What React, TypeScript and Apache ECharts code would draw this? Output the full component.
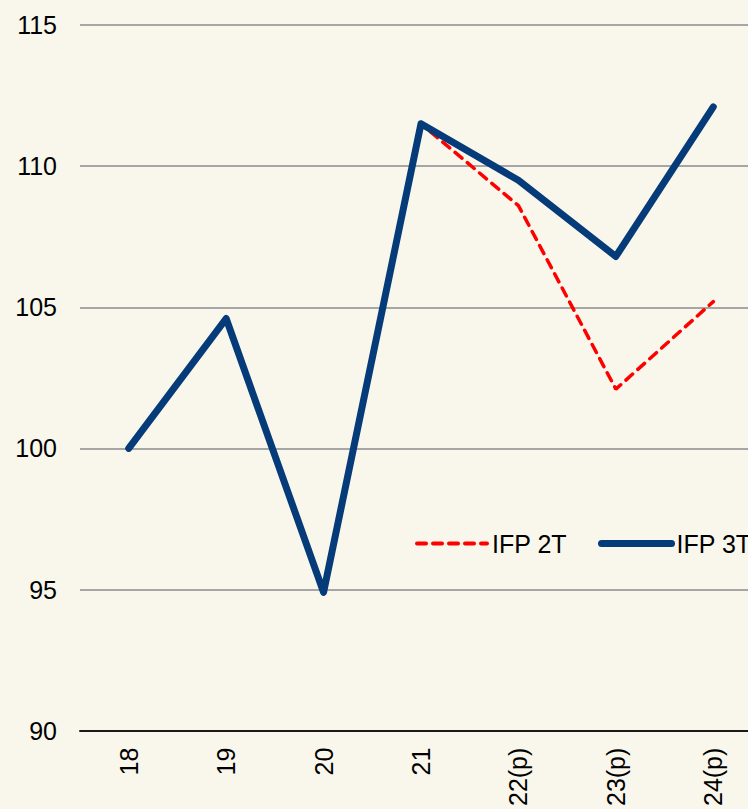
import React, { useEffect, useRef } from "react";
import * as echarts from "echarts";

// Years (projections marked with "(p)")
const categories = ["18", "19", "20", "21", "22(p)", "23(p)", "24(p)"];
// Index values, base 2018 = 100
const ifp2T = [100, 104.6, 94.9, 111.5, 108.6, 102.1, 105.2];
const ifp3T = [100, 104.6, 94.9, 111.5, 109.5, 106.8, 112.1];
const seriesNames = ["IFP 2T", "IFP 3T"];

const FONT = "'Liberation Sans', Arial, sans-serif";
const RED = "#ff0000";
const BLUE = "#063b7a";

export default function App() {
  const ref = useRef<HTMLDivElement>(null);

  useEffect(() => {
    if (!ref.current) return;
    const chart = echarts.init(ref.current, undefined, { renderer: "svg" });
    chart.setOption({
      animation: false,
      backgroundColor: "#f9f7ec",
      textStyle: { fontFamily: FONT },
      grid: { left: 80, top: 25, bottom: 76, right: 0, containLabel: false },
      legend: {
        left: 410,
        top: 526,
        orient: "horizontal",
        itemWidth: 70,
        itemHeight: 25,
        itemGap: 31,
        itemStyle: { opacity: 0 },
        textStyle: { fontSize: 25, color: "#000", fontFamily: FONT },
        data: [
          {
            name: seriesNames[0],
            lineStyle: { width: 4, type: [9, 7], cap: "round", color: RED },
          },
          {
            name: seriesNames[1],
            lineStyle: { width: 7, type: "solid", cap: "round", color: BLUE },
          },
        ],
      },
      xAxis: {
        type: "category",
        data: categories,
        boundaryGap: true,
        axisLine: { lineStyle: { color: "#1a1a1a", width: 2 } },
        axisTick: { show: false },
        axisLabel: {
          rotate: 90,
          margin: 17,
          fontSize: 25,
          color: "#000",
          fontFamily: FONT,
        },
      },
      yAxis: {
        type: "value",
        min: 90,
        max: 115,
        interval: 5,
        axisLine: { show: false },
        axisTick: { show: false },
        axisLabel: { fontSize: 25, color: "#000", margin: 23, fontFamily: FONT },
        splitLine: { lineStyle: { color: "#a6a6a6", width: 2 } },
      },
      series: [
        {
          name: seriesNames[0],
          type: "line",
          data: ifp2T,
          symbol: "none",
          z: 2,
          lineStyle: { color: RED, width: 3.5, type: [9, 7], cap: "round" },
          itemStyle: { color: RED },
        },
        {
          name: seriesNames[1],
          type: "line",
          data: ifp3T,
          symbol: "none",
          z: 3,
          lineStyle: { color: BLUE, width: 7, cap: "round", join: "round" },
          itemStyle: { color: BLUE },
        },
      ],
    });
    return () => chart.dispose();
  }, []);

  return (
    <div
      style={{
        position: "fixed",
        left: 0,
        top: 0,
        width: 748,
        height: 809,
        overflow: "hidden",
      }}
    >
      <div ref={ref} style={{ width: 762, height: 809 }} />
    </div>
  );
}
